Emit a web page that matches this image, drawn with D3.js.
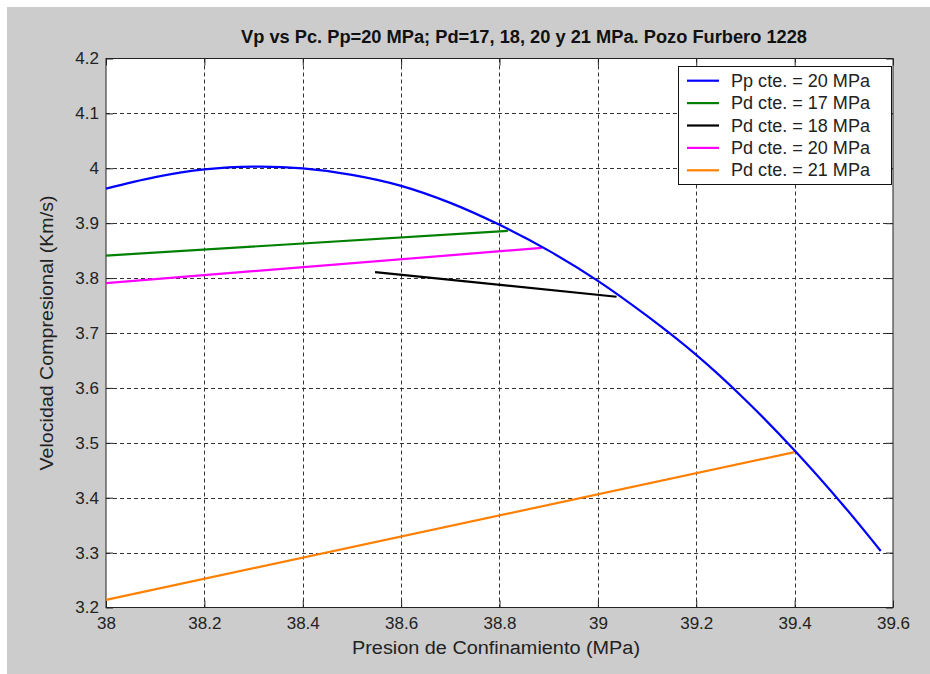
<!DOCTYPE html>
<html>
<head>
<meta charset="utf-8">
<script src="https://cdn.jsdelivr.net/npm/d3@7"></script>
<style>
  html, body { margin: 0; padding: 0; background: #ffffff; }
  svg { display: block; font-family: "Liberation Sans", Arial, sans-serif; }
</style>
</head>
<body>
<svg id="chart" width="930" height="674"></svg>
<script>
// ---------- data ----------
const titleText = "Vp vs Pc. Pp=20 MPa; Pd=17, 18, 20 y 21 MPa. Pozo Furbero 1228";
const xLabelText = "Presion de Confinamiento (MPa)";
const yLabelText = "Velocidad Compresional (Km/s)";

const xTicks = [38, 38.2, 38.4, 38.6, 38.8, 39, 39.2, 39.4, 39.6];
const xTickLabels = ["38", "38.2", "38.4", "38.6", "38.8", "39", "39.2", "39.4", "39.6"];
const yTicks = [3.2, 3.3, 3.4, 3.5, 3.6, 3.7, 3.8, 3.9, 4.0, 4.1, 4.2];
const yTickLabels = ["3.2", "3.3", "3.4", "3.5", "3.6", "3.7", "3.8", "3.9", "4", "4.1", "4.2"];

// Pp cte. = 20 MPa (blue curve)
const ppPc = [38.0, 38.1, 38.2, 38.3, 38.4, 38.5, 38.6, 38.7, 38.8, 38.9, 39.0, 39.1, 39.2, 39.3, 39.4, 39.5, 39.575];
const ppVp = [3.963, 3.984, 3.998, 4.003, 4.000, 3.988, 3.968, 3.937, 3.897, 3.850, 3.795, 3.731, 3.660, 3.578, 3.486, 3.385, 3.303];
// Pd cte. = 17 MPa (green)
const pd17Pc = [38.0, 38.817];
const pd17Vp = [3.841, 3.886];
// Pd cte. = 18 MPa (black)
const pd18Pc = [38.547, 39.038];
const pd18Vp = [3.811, 3.766];
// Pd cte. = 20 MPa (magenta)
const pd20Pc = [38.0, 38.886];
const pd20Vp = [3.791, 3.855];
// Pd cte. = 21 MPa (orange)
const pd21Pc = [38.0, 39.4];
const pd21Vp = [3.214, 3.483];

const seriesNames = ["Pp cte. = 20 MPa", "Pd cte. = 17 MPa", "Pd cte. = 18 MPa", "Pd cte. = 20 MPa", "Pd cte. = 21 MPa"];
const seriesColors = ["#0000ff", "#008000", "#000000", "#ff00ff", "#ff8000"];

// ---------- layout ----------
const svg = d3.select("#chart");
const W = 930, H = 674;
const plot = { left: 106, right: 893, top: 58.5, bottom: 607.5 };

svg.append("rect").attr("x", 0).attr("y", 0).attr("width", W).attr("height", H).attr("fill", "#ffffff");
svg.append("rect").attr("x", 7).attr("y", 7).attr("width", W - 7).attr("height", H - 7).attr("fill", "#cccccc");

const x = d3.scaleLinear().domain([38, 39.6]).range([plot.left, plot.right]);
const y = d3.scaleLinear().domain([3.2, 4.2]).range([plot.bottom, plot.top]);

// plot area
svg.append("rect")
  .attr("x", plot.left).attr("y", plot.top)
  .attr("width", plot.right - plot.left).attr("height", plot.bottom - plot.top)
  .attr("fill", "#ffffff");

// grid
const grid = svg.append("g").attr("stroke", "#333333").attr("stroke-width", 1).attr("stroke-dasharray", "4,3");
xTicks.slice(1, -1).forEach(v => {
  grid.append("line")
    .attr("x1", Math.round(x(v)) + 0.5).attr("x2", Math.round(x(v)) + 0.5)
    .attr("y1", plot.top).attr("y2", plot.bottom);
});
yTicks.slice(1, -1).forEach(v => {
  grid.append("line")
    .attr("x1", plot.left).attr("x2", plot.right)
    .attr("y1", Math.round(y(v)) + 0.5).attr("y2", Math.round(y(v)) + 0.5);
});

// axes
const fmtX = d => xTickLabels[xTicks.indexOf(d)];
const fmtY = d => yTickLabels[yTicks.indexOf(d)];
const tickLen = 7;

function styleAxis(g) {
  g.select(".domain").remove();
  g.selectAll(".tick line").attr("stroke", "#222222");
  g.selectAll(".tick text").attr("fill", "#222222").attr("font-size", "17px")
    .attr("font-family", "'Liberation Sans', Arial, sans-serif");
}

svg.append("g").attr("transform", `translate(0,${plot.bottom})`)
  .call(d3.axisBottom(x).tickValues(xTicks).tickFormat(fmtX).tickSize(-tickLen).tickPadding(9))
  .call(styleAxis);
svg.append("g").attr("transform", `translate(0,${plot.top})`)
  .call(d3.axisTop(x).tickValues(xTicks).tickFormat("").tickSize(-tickLen))
  .call(styleAxis);
svg.append("g").attr("transform", `translate(${plot.left},0)`)
  .call(d3.axisLeft(y).tickValues(yTicks).tickFormat(fmtY).tickSize(-tickLen).tickPadding(7))
  .call(styleAxis);
svg.append("g").attr("transform", `translate(${plot.right},0)`)
  .call(d3.axisRight(y).tickValues(yTicks).tickFormat("").tickSize(-tickLen))
  .call(styleAxis);

// box
svg.append("rect")
  .attr("x", plot.left).attr("y", plot.top)
  .attr("width", plot.right - plot.left).attr("height", plot.bottom - plot.top)
  .attr("fill", "none").attr("stroke", "#222222").attr("stroke-width", 1);

// series
const seriesData = [
  ppPc.map((p, i) => [p, ppVp[i]]),
  pd17Pc.map((p, i) => [p, pd17Vp[i]]),
  pd18Pc.map((p, i) => [p, pd18Vp[i]]),
  pd20Pc.map((p, i) => [p, pd20Vp[i]]),
  pd21Pc.map((p, i) => [p, pd21Vp[i]])
];
const lineGen = d3.line().x(d => x(d[0])).y(d => y(d[1])).curve(d3.curveCatmullRom.alpha(0.5));
const drawOrder = [1, 2, 3, 4, 0];
drawOrder.forEach(i => {
  svg.append("path")
    .datum(seriesData[i])
    .attr("d", lineGen)
    .attr("fill", "none")
    .attr("stroke", seriesColors[i])
    .attr("stroke-width", 2.2);
});

// legend
const leg = { x: 678.5, y: 66.5, w: 213, h: 118 };
svg.append("rect").attr("x", leg.x).attr("y", leg.y).attr("width", leg.w).attr("height", leg.h)
  .attr("fill", "#ffffff").attr("stroke", "#111111").attr("stroke-width", 1);
seriesNames.forEach((name, i) => {
  const cy = 80.7 + i * 22.4;
  svg.append("line").attr("x1", 687).attr("x2", 719).attr("y1", cy).attr("y2", cy)
    .attr("stroke", seriesColors[i]).attr("stroke-width", 2.2);
  svg.append("text").attr("x", 731).attr("y", cy + 6)
    .attr("font-size", "17.5px").attr("fill", "#222222")
    .attr("textLength", 139).attr("lengthAdjust", "spacingAndGlyphs")
    .text(name);
});

// title and labels
svg.append("text").attr("x", 241).attr("y", 43)
  .attr("font-size", "18px").attr("font-weight", "bold").attr("fill", "#111111")
  .attr("textLength", 566).attr("lengthAdjust", "spacingAndGlyphs")
  .text(titleText);
svg.append("text").attr("x", 496).attr("y", 654)
  .attr("text-anchor", "middle").attr("font-size", "18px").attr("fill", "#222222")
  .attr("textLength", 288).attr("lengthAdjust", "spacingAndGlyphs")
  .text(xLabelText);
svg.append("text")
  .attr("transform", `translate(53,${(plot.top + plot.bottom) / 2}) rotate(-90)`)
  .attr("text-anchor", "middle").attr("font-size", "18px").attr("fill", "#222222")
  .attr("textLength", 275).attr("lengthAdjust", "spacingAndGlyphs")
  .text(yLabelText);
</script>
</body>
</html>
